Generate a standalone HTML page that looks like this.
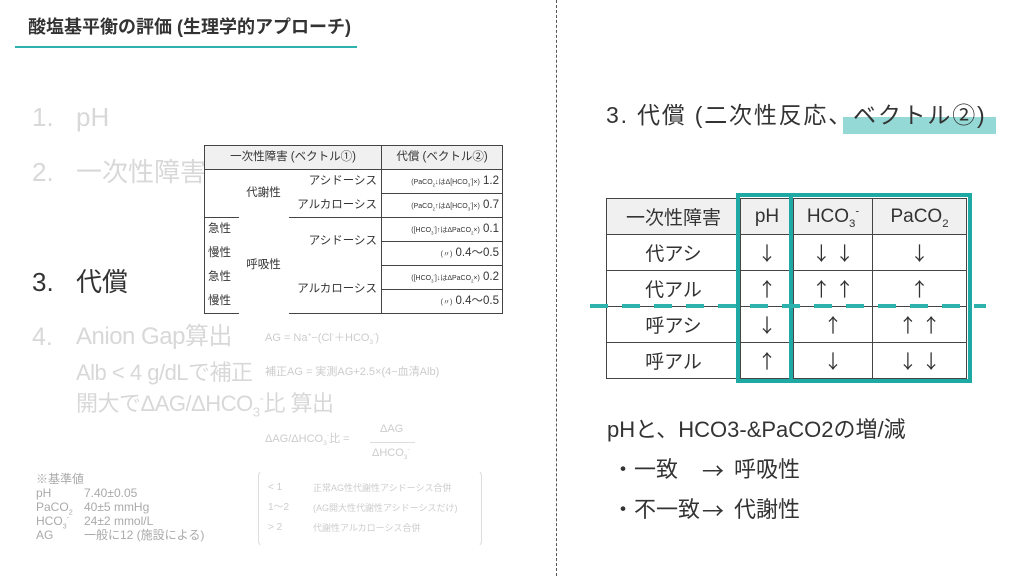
<!DOCTYPE html><html><head><meta charset="utf-8"><style>
body{margin:0;width:1024px;height:576px;background:#fff;position:relative;overflow:hidden;font-family:"Liberation Sans","Noto Sans CJK JP",sans-serif;color:#333}
.a{position:absolute;white-space:nowrap;line-height:1}
.g{color:#d8d8d8}
table{border-collapse:collapse;position:absolute;table-layout:fixed}
.t1 td{border:1px solid #444;padding:0;height:23px;font-size:11.5px;line-height:1;overflow:hidden;white-space:nowrap}
.t2 td{border:1px solid #444;padding:0;text-align:center;font-size:19px;height:35px}
.ar{font-family:"Noto Sans CJK JP",sans-serif;font-size:20px}
sub,sup{font-size:60%;line-height:0}
</style></head><body>
<div class="a" style="left:28px;top:18px;font-size:18px;font-weight:bold;color:#333">酸塩基平衡の評価 (生理学的アプローチ)</div>
<div style="position:absolute;left:15px;top:46px;width:342px;height:2px;background:#2eb2ad"></div>
<div style="position:absolute;left:556px;top:0;height:576px;border-left:1.5px dashed #555"></div>

<div class="a g" style="left:32px;top:104px;font-size:26px">1.</div><div class="a g" style="left:76px;top:104px;font-size:26px">pH</div>
<div class="a g" style="left:32px;top:159px;font-size:26px">2.</div><div class="a g" style="left:76px;top:159px;font-size:26px">一次性障害</div>
<div class="a" style="left:32px;top:269px;font-size:26px;color:#333">3.</div><div class="a" style="left:76px;top:269px;font-size:26px;color:#333">代償</div>
<div class="a g" style="left:32px;top:325px;font-size:25px">4.</div><div class="a g" style="left:76px;top:325px;font-size:24px;letter-spacing:-0.5px">Anion Gap算出</div>
<div class="a g" style="left:76px;top:362px;font-size:22px;letter-spacing:-0.5px">Alb &lt; 4 g/dLで補正</div>
<div class="a g" style="left:76px;top:393px;font-size:22px;letter-spacing:-0.5px">開大でΔAG/ΔHCO<sub>3</sub><sup>-</sup>比 算出</div>

<div class="a g" style="left:265px;top:333px;font-size:11px;color:#ccc">AG = Na<sup>+</sup>−(Cl<sup>-</sup>＋HCO<sub>3</sub><sup>-</sup>)</div>
<div class="a g" style="left:265px;top:367px;font-size:11px;color:#ccc">補正AG = 実測AG+2.5×(4−血清Alb)</div>
<div class="a g" style="left:265px;top:434px;font-size:11px;color:#ccc">ΔAG/ΔHCO<sub>3</sub><sup>-</sup>比 =</div>
<div class="a g" style="left:380px;top:424px;font-size:11px;color:#ccc">ΔAG</div>
<div style="position:absolute;left:370px;top:442px;width:45px;height:1px;background:#ddd"></div>
<div class="a g" style="left:372px;top:448px;font-size:11px;color:#ccc">ΔHCO<sub>3</sub><sup>-</sup></div>
<div style="position:absolute;left:258px;top:470px;width:222px;height:75px;border:1px solid #ddd;border-radius:6px;border-top-color:transparent;border-bottom-color:transparent"></div>
<div class="a" style="left:268px;top:483px;font-size:10px;color:#ccc">&lt; 1</div><div class="a" style="left:313px;top:484px;font-size:9px;color:#ccc">正常AG性代謝性アシドーシス合併</div>
<div class="a" style="left:268px;top:503px;font-size:10px;color:#ccc">1〜2</div><div class="a" style="left:313px;top:504px;font-size:9px;color:#ccc">(AG開大性代謝性アシドーシスだけ)</div>
<div class="a" style="left:268px;top:523px;font-size:10px;color:#ccc">&gt; 2</div><div class="a" style="left:313px;top:524px;font-size:9px;color:#ccc">代謝性アルカローシス合併</div>

<div style="position:absolute;left:36px;top:472px;font-size:12px;color:#aaa;line-height:14px">
※基準値<br>
<span style="display:inline-block;width:48px">pH</span>7.40±0.05<br>
<span style="display:inline-block;width:48px">PaCO<sub>2</sub></span>40±5 mmHg<br>
<span style="display:inline-block;width:48px">HCO<sub>3</sub><sup>-</sup></span>24±2 mmol/L<br>
<span style="display:inline-block;width:48px">AG</span>一般に12 (施設による)</div>

<table class="t1" style="left:204px;top:145px;width:298px">
<colgroup><col style="width:34px"><col style="width:50px"><col style="width:93px"><col style="width:121px"></colgroup>
<tr style="background:#f0f0f0"><td colspan="3" style="text-align:center">一次性障害 (ベクトル①)</td><td style="text-align:center">代償 (ベクトル②)</td></tr>
<tr><td style="border-right:none;border-bottom:none"></td><td rowspan="2" style="border:none;text-align:center">代謝性</td><td style="border-left:none;border-bottom:none;text-align:right;padding-right:4px">アシドーシス</td><td style="text-align:right;padding-right:3px"><span style="font-size:7px">(PaCO<sub>2</sub>↓はΔ[HCO<sub>3</sub><sup>-</sup>]×)</span> 1.2</td></tr>
<tr><td style="border-right:none;border-top:none"></td><td style="border-left:none;border-top:none;text-align:right;padding-right:4px">アルカローシス</td><td style="text-align:right;padding-right:3px"><span style="font-size:7px">(PaCO<sub>2</sub>↑はΔ[HCO<sub>3</sub><sup>-</sup>]×)</span> 0.7</td></tr>
<tr><td style="border:none;border-left:1px solid #444;padding-left:3px">急性</td><td rowspan="4" style="border:none;text-align:center">呼吸性</td><td rowspan="2" style="border:none;border-right:1px solid #444;text-align:right;padding-right:4px">アシドーシス</td><td style="text-align:right;padding-right:3px"><span style="font-size:7px">([HCO<sub>3</sub><sup>-</sup>]↑はΔPaCO<sub>2</sub>×)</span> 0.1</td></tr>
<tr><td style="border:none;border-left:1px solid #444;padding-left:3px">慢性</td><td style="text-align:right;padding-right:3px"><span style="font-size:7px">(〃)</span> 0.4〜0.5</td></tr>
<tr><td style="border:none;border-left:1px solid #444;padding-left:3px">急性</td><td rowspan="2" style="border:none;border-right:1px solid #444;border-bottom:1px solid #444;text-align:right;padding-right:4px">アルカローシス</td><td style="text-align:right;padding-right:3px"><span style="font-size:7px">([HCO<sub>3</sub><sup>-</sup>]↓はΔPaCO<sub>2</sub>×)</span> 0.2</td></tr>
<tr><td style="border:none;border-left:1px solid #444;border-bottom:1px solid #444;padding-left:3px">慢性</td><td style="text-align:right;padding-right:3px"><span style="font-size:7px">(〃)</span> 0.4〜0.5</td></tr>
</table>

<div style="position:absolute;left:843px;top:117px;width:153px;height:17px;background:#94d9d6"></div>
<div class="a" style="left:606px;top:104px;font-size:23px;letter-spacing:1.8px;color:#333">3. 代償 (二次性反応、ベクトル②)</div>

<table class="t2" style="left:606px;top:198px;width:361px">
<colgroup><col style="width:134px"><col style="width:53px"><col style="width:79px"><col></colgroup>
<tr style="background:#f0f0f0"><td>一次性障害</td><td>pH</td><td>HCO<sub>3</sub><sup>-</sup></td><td>PaCO<sub>2</sub></td></tr>
<tr><td>代アシ</td><td class="ar">↓</td><td class="ar">↓ ↓</td><td class="ar">↓</td></tr>
<tr><td>代アル</td><td class="ar">↑</td><td class="ar">↑ ↑</td><td class="ar">↑</td></tr>
<tr><td>呼アシ</td><td class="ar">↓</td><td class="ar">↑</td><td class="ar">↑ ↑</td></tr>
<tr><td>呼アル</td><td class="ar">↑</td><td class="ar">↓</td><td class="ar">↓ ↓</td></tr>
</table>
<div style="position:absolute;left:736px;top:193px;width:228px;height:182px;border:4px solid #1fa9a4"></div>
<div style="position:absolute;left:789px;top:193px;width:4px;height:190px;background:#1fa9a4"></div>
<div style="position:absolute;left:590px;top:304px;width:396px;height:4px;background:repeating-linear-gradient(90deg,#2eb2ad 0 18px,transparent 18px 32px)"></div>

<div class="a" style="left:607px;top:419px;font-size:22px;color:#333">pHと、HCO3-&amp;PaCO2の増/減</div>
<div class="a" style="left:612px;top:459px;width:300px;height:26px;font-size:22px;color:#333"><span style="position:absolute;left:0">・一致</span><span style="position:absolute;left:90px;font-family:'Noto Sans CJK JP',sans-serif">→</span><span style="position:absolute;left:122px">呼吸性</span></div>
<div class="a" style="left:612px;top:499px;width:300px;height:26px;font-size:22px;color:#333"><span style="position:absolute;left:0">・不一致</span><span style="position:absolute;left:90px;font-family:'Noto Sans CJK JP',sans-serif">→</span><span style="position:absolute;left:122px">代謝性</span></div>
</body></html>
